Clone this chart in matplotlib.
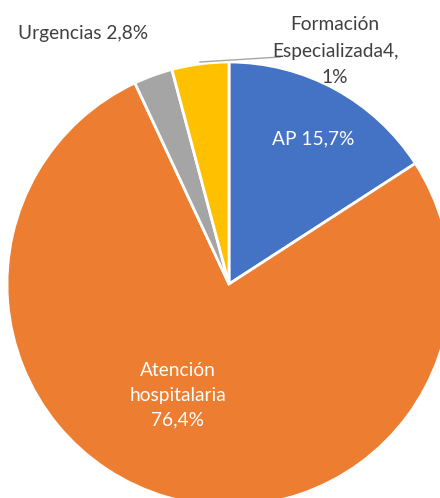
import matplotlib.pyplot as plt

# Data
labels = ['AP', 'Atención hospitalaria', 'Urgencias', 'Formación Especializada']
values = [15.7, 76.4, 2.8, 4.1]
colors = ['#4472C4', '#ED7D31', '#A5A5A5', '#FFC000']

plt.rcParams['font.family'] = ['Lato', 'DejaVu Sans']

W, H = 440, 498
fig = plt.figure(figsize=(W / 100, H / 100), dpi=100)

# pie centre and radius in pixels (pie runs off the right and bottom edges)
cx, cy, r = 229, 284, 222
ax = fig.add_axes([(cx - r) / W, 1 - (cy + r) / H, 2 * r / W, 2 * r / H])

ax.pie(values, colors=colors, startangle=90, counterclock=False,
       wedgeprops=dict(edgecolor='white', linewidth=2))
ax.set_xlim(-1, 1)
ax.set_ylim(-1, 1)


def px(x, y):
    # pixel position -> pie data coords
    return (x - cx) / r, (cy - y) / r


dark = '#404040'
fs = 13.8

ax.text(*px(313, 139), 'AP 15,7%', color='white', fontsize=fs, ha='center', va='center')
ax.text(*px(178, 395), 'Atención\nhospitalaria\n76,4%', color='white', fontsize=fs,
        ha='center', va='center', linespacing=1.55)
ax.text(*px(83, 34), 'Urgencias 2,8%', color=dark, fontsize=fs, ha='center', va='center')
ax.text(*px(335, 51), 'Formación\nEspecializada4,\n1%', color=dark, fontsize=fs,
        ha='center', va='center', linespacing=1.65)

# leader line for the Formación label
x0, y0 = px(200, 62)
x1, y1 = px(280, 57)
ax.plot([x0, x1], [y0, y1], color='#A6A6A6', linewidth=1, clip_on=False)

fig.savefig('out.png', dpi=100)
